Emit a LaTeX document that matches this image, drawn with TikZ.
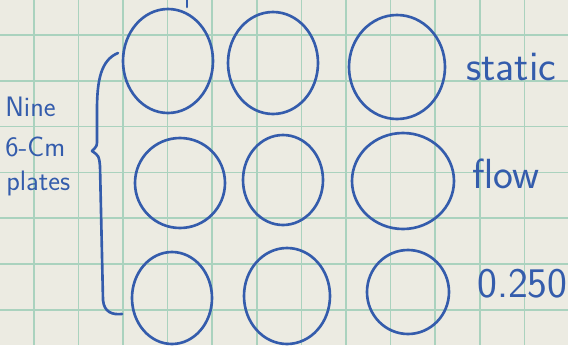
\documentclass[tikz,border=0pt]{standalone}
\usepackage{fontspec}
\definecolor{paper}{RGB}{236,235,226}
\definecolor{gridgreen}{RGB}{170,210,190}
\definecolor{ink}{RGB}{52,92,172}
\tikzset{
  pen/.style={ink,line width=1.5pt,line cap=round,line join=round},
  note/.style={ink,font=\sffamily\fontsize{24}{28}\selectfont,anchor=west,inner sep=0pt},
  sidenote/.style={ink,font=\sffamily\fontsize{16}{19}\selectfont,anchor=west,inner sep=0pt}
}
\begin{document}
\begin{tikzpicture}[x=0.02cm,y=-0.02cm]
        % --- foglio a quadretti ---
        \fill[paper] (0,0) rectangle (568,345);
        \useasboundingbox (0,0) rectangle (568,345);
        \foreach \gx in {0,...,12}
            \draw[gridgreen,line width=0.9pt] (33.8+44.6*\gx,0) -- (33.8+44.6*\gx,345);
        \foreach \gy in {0,...,7}
            \draw[gridgreen,line width=0.9pt] (0,35+45.8*\gy) -- (568,35+45.8*\gy);
        \draw[pen] (187,0) -- (187,7);
        % --- riga 1 ---
        \draw[pen] (168,61) ellipse (45 and 52);
        \draw[pen] (273,63) ellipse (45 and 51);
        \draw[pen] (397,67) ellipse (48 and 52);
        % --- riga 2 ---
        \draw[pen] (180,183) ellipse (45 and 45);
        \draw[pen] (283,180) ellipse (40 and 45);
        \draw[pen] (403,181) ellipse (51 and 48);
        % --- riga 3 ---
        \draw[pen] (172,298) ellipse (40 and 46);
        \draw[pen] (287,296) ellipse (43 and 48);
        \draw[pen] (408,292) ellipse (41 and 42);
        % --- graffa e scritte ---
        \draw[pen] (118,53) .. controls (101,60) and (97,80) .. (97,110) -- (97,140)
            .. controls (97,146) .. (92,151) .. controls (99,156) .. (100,166)
            -- (103,300) .. controls (104,312) and (112,315) .. (122,314);
        \node[sidenote] (nine) at (5,107) {Nine};
        \node[sidenote] (size) at (5,147) {6-Cm};
        \node[sidenote] (plates) at (6,183) {plates};
        \node[note] (static) at (466,67) {static};
        \node[note] (flow) at (472,174) {flow};
        \node[note] (conc) at (477,284) {0.250};
    \end{tikzpicture}
\end{document}
